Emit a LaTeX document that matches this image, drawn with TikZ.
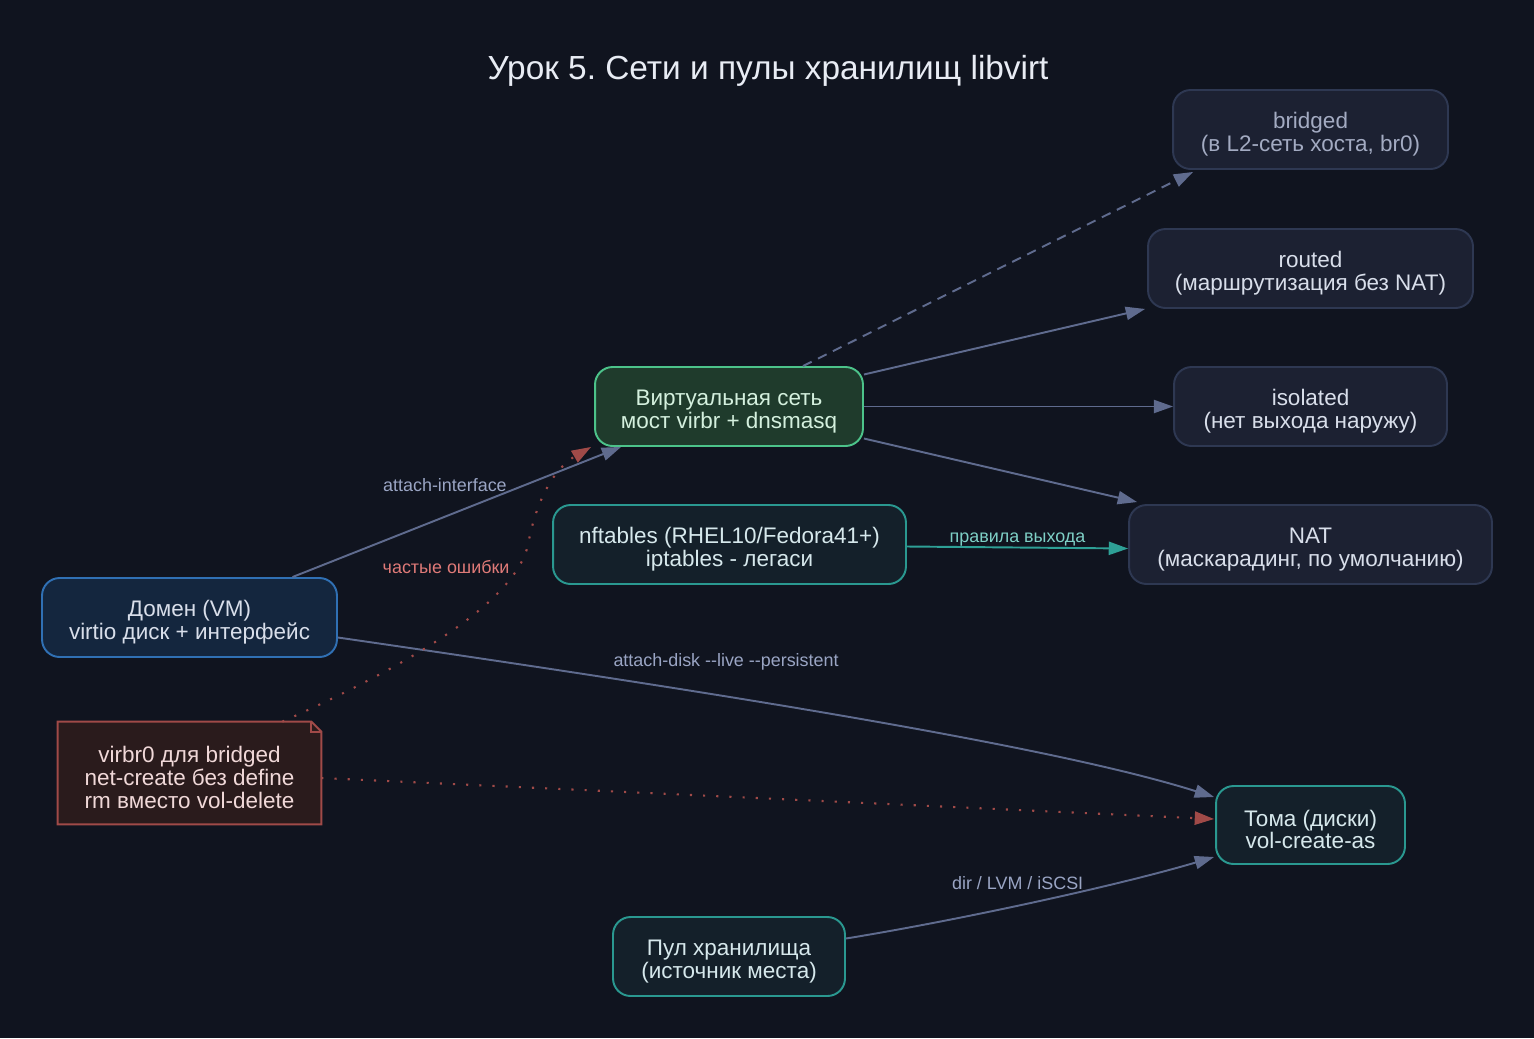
\documentclass[tikz,border=0pt]{standalone}
\usepackage{fontspec}
\setmainfont{Liberation Sans}
\usetikzlibrary{arrows.meta, positioning, calc}
\frenchspacing
\newcommand{\topstrut}{\rule{0pt}{14.4pt}}

\definecolor{bgc}{HTML}{10141F}
\definecolor{titlec}{HTML}{E8ECF4}
\definecolor{edgec}{HTML}{5F6B8E}
\definecolor{elabc}{HTML}{9AA5C4}
\definecolor{boxfill}{HTML}{1C2132}
\definecolor{boxdraw}{HTML}{2E3852}
\definecolor{boxtext}{HTML}{D8DEEA}
\definecolor{dimtext}{HTML}{A3ABC2}
\definecolor{netfill}{HTML}{1F3B2C}
\definecolor{netdraw}{HTML}{4CC38A}
\definecolor{nettext}{HTML}{D4F0DE}
\definecolor{tealfill}{HTML}{14202A}
\definecolor{tealdraw}{HTML}{2A9890}
\definecolor{tealtext}{HTML}{D6E8EC}
\definecolor{domfill}{HTML}{14263E}
\definecolor{domdraw}{HTML}{3070B4}
\definecolor{notefill}{HTML}{2A1B1C}
\definecolor{notedraw}{HTML}{A04A48}
\definecolor{notetext}{HTML}{F0D8D8}
\definecolor{errlab}{HTML}{E07A78}
\definecolor{tealedge}{HTML}{2EA096}
\definecolor{teallab}{HTML}{7ED0C6}

\begin{document}
\begin{tikzpicture}[x=0.02cm, y=-0.02cm,
  box/.style={rectangle, rounded corners=10pt, draw=boxdraw, fill=boxfill,
              line width=1.1pt, text=boxtext, align=center,
              font=\fontsize{12.8}{13}\selectfont, minimum height=1.58cm},
  netbox/.style={box, draw=netdraw, fill=netfill, text=nettext},
  tealbox/.style={box, draw=tealdraw, fill=tealfill, text=tealtext},
  dombox/.style={box, draw=domdraw, fill=domfill, text=boxtext},
  link/.style={draw=edgec, line width=1.1pt,
               -{Triangle[length=11pt, width=7.5pt]}},
  elab/.style={text=elabc, font=\fontsize{10.2}{11}\selectfont},
  errlink/.style={link, draw=notedraw, line width=1.2pt,
                  dash pattern=on 1.2pt off 6.3pt,
                  -{Triangle[length=11pt, width=7.5pt, fill=notedraw]}}]

  \fill[bgc] (0,0) rectangle (1534,1038);
  \useasboundingbox (0,0) rectangle (1534,1038);

  \node[text=titlec, font=\fontsize{19}{22}\selectfont]
    (title) at (768,71) {Урок 5. Сети и пулы хранилищ libvirt};

  % network modes
  \node[box, text=dimtext, minimum width=5.5cm] (bridged) at (1310.5,129.5)
    {\topstrut bridged\\(в L2-сеть хоста, br0)};
  \node[box, minimum width=6.5cm] (routed) at (1310.5,268.5)
    {\topstrut routed\\(маршрутизация без NAT)};
  \node[box, minimum width=5.46cm] (isolated) at (1310.5,406.5)
    {\topstrut isolated\\(нет выхода наружу)};
  \node[box, minimum width=7.26cm] (nat) at (1310.5,544.5)
    {\topstrut NAT\\(маскарадинг, по умолчанию)};

  \node[netbox, minimum width=5.36cm] (vnet) at (729,406.5)
    {\topstrut Виртуальная сеть\\мост virbr + dnsmasq};
  \node[tealbox, minimum width=7.06cm] (nft) at (729.5,544.5)
    {\topstrut nftables (RHEL10/Fedora41+)\\iptables - легаси};
  \node[dombox, minimum width=5.9cm] (dom) at (189.5,617.5)
    {\topstrut Домен (VM)\\virtio диск + интерфейс};
  \node[tealbox, minimum width=3.78cm, minimum height=1.56cm] (vol) at (1310.5,825)
    {\topstrut Тома (диски)\\vol-create-as};
  \node[tealbox, minimum width=4.64cm] (pool) at (729,956.5)
    {\topstrut Пул хранилища\\(источник места)};

  % note with folded corner
  \node[rectangle, fill=notefill, text=notetext,
        align=center, font=\fontsize{12.8}{13}\selectfont,
        minimum width=5.26cm, minimum height=2.04cm] (note) at (189.5,773)
    {\topstrut virbr0 для bridged\\net-create без define\\rm вместо vol-delete};
  \fill[bgc] ($(note.north east)+(-10,0)$) -- (note.north east)
    -- ($(note.north east)+(0,10)$) -- cycle;
  \draw[notedraw, line width=1.1pt, line join=miter]
    (note.south west) -- (note.north west) -- ($(note.north east)+(-10,0)$)
    -- ($(note.north east)+(0,10)$) -- (note.south east) -- cycle;
  \draw[notedraw, line width=1.1pt]
    ($(note.north east)+(-10,0)$) -- ($(note.north east)+(-10,10)$)
    -- ($(note.north east)+(0,10)$);

  % edges
  \draw[link] ($(dom.north)+(103,0)$) -- ($(vnet.south west)+(27,0)$)
    node[elab, pos=0.464, yshift=18pt] {attach-interface};
  \draw[link, dash pattern=on 5.5pt off 4pt] ($(vnet.north)+(74,0)$)
    -- ($(bridged.south west)+(21,2)$);
  \draw[link] ($(vnet.east)+(0,-32)$) -- ($(routed.south west)+(-2,0)$);
  \draw[link] (vnet.east) -- (isolated.west);
  \draw[link] ($(vnet.east)+(0,32)$) -- ($(nat.north west)+(9,-2)$);
  \draw[link, draw=tealedge,
        -{Triangle[length=11pt, width=7.5pt, fill=tealedge]}]
    ($(nft.east)+(0,2)$) -- ($(nat.west)+(0,4)$)
    node[midway, yshift=4.5pt, text=teallab, font=\fontsize{10.2}{11}\selectfont]
      {правила выхода};
  \draw[link] ($(dom.east)+(0,20)$) .. controls (700,690) and (1050,745)
    .. ($(vol.west)+(-1,-28)$)
    node[elab, pos=0.37, yshift=20pt] {attach-disk -{}-live -{}-persistent};
  \draw[link] ($(pool.east)+(0,-18)$) .. controls (960,920) and (1120,885)
    .. ($(vol.west)+(-1,32)$)
    node[elab, pos=0.45, yshift=13pt] {dir / LVM / iSCSI};

  \draw[errlink] ($(note.north east)+(-39,0)$) .. controls (420,660) and (515,600)
    .. (528,545)
    node[pos=0.9, anchor=east, xshift=-3pt, yshift=-3pt, text=errlab,
         font=\fontsize{10.2}{11}\selectfont] {частые ошибки}
    .. controls (538,490) and (560,465) .. ($(vnet.south west)+(-3,0)$);
  \draw[errlink] ($(note.east)+(0,5)$) -- ($(vol.west)+(-1,-6)$);
\end{tikzpicture}
\end{document}
